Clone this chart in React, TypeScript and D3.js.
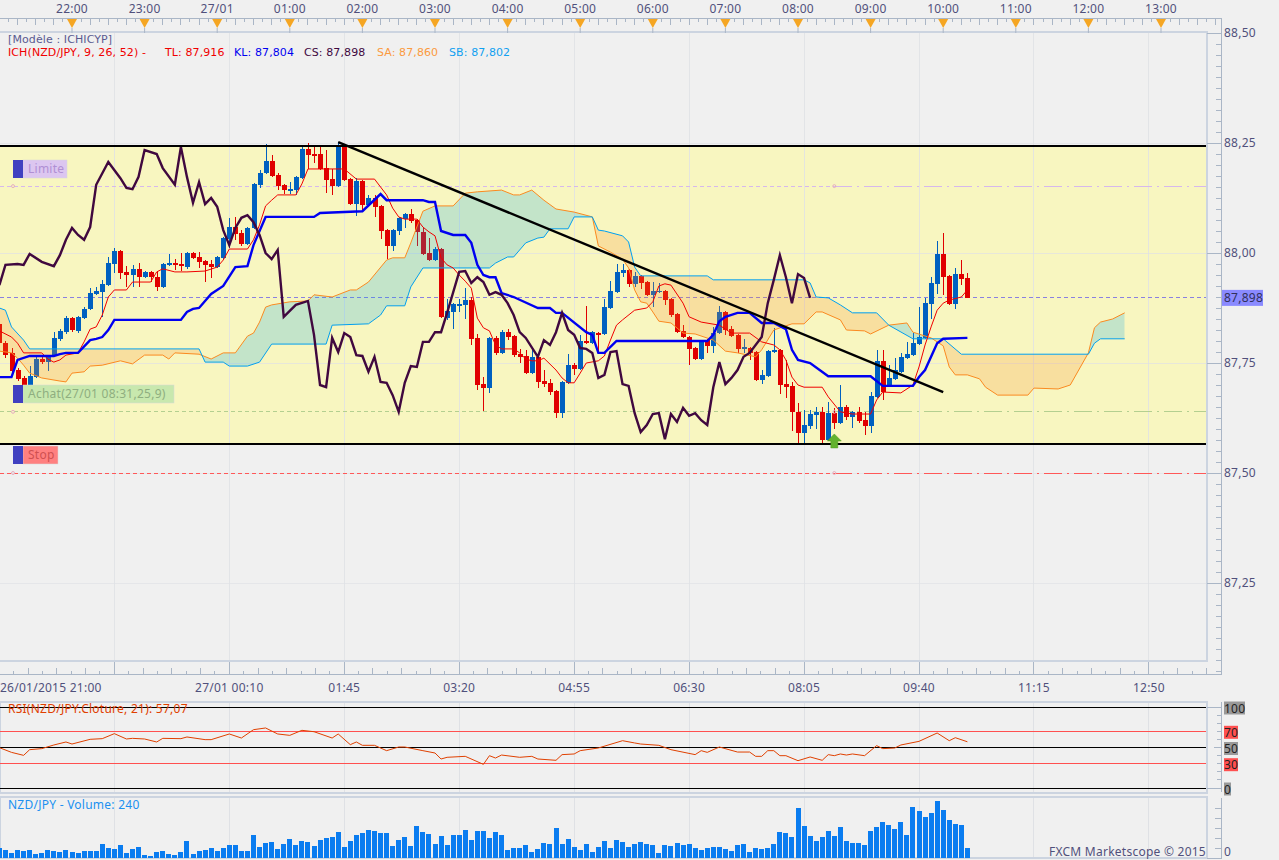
import React from 'react';
import * as d3 from 'd3';

// NZD/JPY 5 min candles, bar 0 = 26/01 21:00
const opens = [
  87.839, 87.795, 87.773, 87.734, 87.716, 87.698, 87.718, 87.759, 87.752, 87.768,
  87.805, 87.820, 87.852, 87.823, 87.852, 87.873, 87.907, 87.911, 87.927, 87.975,
  88.005, 87.957, 87.950, 87.964, 87.945, 87.957, 87.945, 87.923, 87.973, 87.977,
  87.975, 87.968, 88.000, 87.991, 87.982, 87.975, 87.968, 87.989, 88.032, 88.059,
  88.045, 88.020, 88.057, 88.155, 88.182, 88.209, 88.177, 88.155, 88.143, 88.143,
  88.170, 88.236, 88.225, 88.225, 88.193, 88.168, 88.152, 88.245, 88.168, 88.111,
  88.164, 88.109, 88.125, 88.107, 88.052, 88.016, 88.050, 88.077, 88.089, 88.075,
  88.048, 88.000, 87.984, 88.009, 87.852, 87.866, 87.882, 87.882, 87.893, 87.807,
  87.702, 87.693, 87.807, 87.773, 87.820, 87.811, 87.770, 87.766, 87.727, 87.764,
  87.709, 87.705, 87.686, 87.636, 87.705, 87.745, 87.736, 87.800, 87.795, 87.818,
  87.816, 87.875, 87.911, 87.955, 87.961, 87.930, 87.948, 87.934, 87.905, 87.911,
  87.914, 87.895, 87.861, 87.823, 87.809, 87.784, 87.759, 87.802, 87.789, 87.818,
  87.866, 87.827, 87.814, 87.784, 87.784, 87.775, 87.711, 87.720, 87.775, 87.780,
  87.702, 87.698, 87.639, 87.591, 87.607, 87.632, 87.639, 87.575, 87.636, 87.614,
  87.650, 87.627, 87.639, 87.620, 87.607, 87.673, 87.755, 87.700, 87.714, 87.730,
  87.761, 87.768, 87.793, 87.807, 87.884, 87.930, 87.998, 87.948, 87.884, 87.952,
  87.943,
];
const closes = [
  87.795, 87.768, 87.732, 87.714, 87.700, 87.720, 87.759, 87.752, 87.764, 87.807,
  87.823, 87.852, 87.825, 87.855, 87.873, 87.909, 87.914, 87.930, 87.977, 88.005,
  87.955, 87.950, 87.964, 87.945, 87.957, 87.945, 87.923, 87.975, 87.977, 87.973,
  87.970, 88.000, 87.989, 87.980, 87.973, 87.968, 87.991, 88.034, 88.059, 88.043,
  88.020, 88.057, 88.157, 88.182, 88.209, 88.175, 88.152, 88.143, 88.145, 88.173,
  88.236, 88.223, 88.223, 88.191, 88.166, 88.152, 88.245, 88.166, 88.111, 88.164,
  88.109, 88.125, 88.105, 88.050, 88.016, 88.052, 88.080, 88.089, 88.073, 88.048,
  87.998, 87.984, 88.009, 87.855, 87.868, 87.884, 87.884, 87.893, 87.805, 87.700,
  87.693, 87.807, 87.773, 87.820, 87.809, 87.768, 87.764, 87.727, 87.764, 87.707,
  87.702, 87.684, 87.636, 87.707, 87.745, 87.736, 87.800, 87.795, 87.820, 87.816,
  87.877, 87.914, 87.957, 87.961, 87.930, 87.948, 87.932, 87.905, 87.914, 87.914,
  87.893, 87.859, 87.820, 87.809, 87.782, 87.759, 87.800, 87.789, 87.818, 87.866,
  87.825, 87.811, 87.782, 87.786, 87.773, 87.711, 87.723, 87.777, 87.780, 87.700,
  87.695, 87.639, 87.591, 87.609, 87.634, 87.639, 87.575, 87.636, 87.614, 87.650,
  87.627, 87.639, 87.618, 87.607, 87.675, 87.755, 87.684, 87.716, 87.734, 87.764,
  87.770, 87.795, 87.809, 87.886, 87.932, 87.998, 87.945, 87.884, 87.952, 87.941,
  87.898,
];
const highs = [
  87.843, 87.800, 87.784, 87.739, 87.720, 87.743, 87.764, 87.764, 87.768, 87.820,
  87.827, 87.857, 87.855, 87.857, 87.877, 87.920, 87.923, 87.939, 87.991, 88.011,
  88.007, 87.970, 87.973, 87.977, 87.959, 87.959, 87.957, 87.977, 87.998, 87.986,
  88.000, 88.002, 88.002, 88.002, 87.984, 87.984, 87.993, 88.036, 88.080, 88.082,
  88.052, 88.059, 88.159, 88.189, 88.248, 88.223, 88.182, 88.157, 88.161, 88.175,
  88.243, 88.250, 88.245, 88.245, 88.234, 88.191, 88.252, 88.248, 88.170, 88.170,
  88.166, 88.132, 88.132, 88.109, 88.055, 88.055, 88.082, 88.091, 88.100, 88.077,
  88.057, 88.034, 88.014, 88.011, 87.895, 87.886, 87.895, 87.920, 87.900, 87.816,
  87.718, 87.809, 87.811, 87.825, 87.827, 87.814, 87.782, 87.780, 87.782, 87.766,
  87.734, 87.714, 87.689, 87.709, 87.770, 87.750, 87.814, 87.880, 87.823, 87.820,
  87.895, 87.936, 87.975, 87.975, 87.964, 87.957, 87.950, 87.936, 87.934, 87.932,
  87.916, 87.898, 87.864, 87.836, 87.811, 87.786, 87.802, 87.805, 87.832, 87.880,
  87.868, 87.834, 87.816, 87.805, 87.786, 87.777, 87.734, 87.780, 87.830, 87.782,
  87.757, 87.707, 87.659, 87.643, 87.643, 87.650, 87.650, 87.661, 87.648, 87.700,
  87.655, 87.641, 87.650, 87.639, 87.684, 87.780, 87.780, 87.745, 87.761, 87.773,
  87.798, 87.818, 87.877, 87.898, 87.945, 88.027, 88.045, 87.950, 87.966, 87.984,
  87.955,
];
const lows = [
  87.791, 87.761, 87.730, 87.709, 87.693, 87.693, 87.716, 87.748, 87.732, 87.764,
  87.800, 87.816, 87.820, 87.818, 87.850, 87.870, 87.905, 87.855, 87.925, 87.955,
  87.941, 87.923, 87.923, 87.923, 87.943, 87.934, 87.914, 87.920, 87.970, 87.961,
  87.959, 87.964, 87.986, 87.966, 87.934, 87.943, 87.966, 87.986, 88.011, 88.030,
  88.016, 88.018, 88.055, 88.148, 88.180, 88.173, 88.143, 88.134, 88.134, 88.132,
  88.168, 88.191, 88.205, 88.189, 88.136, 88.132, 88.150, 88.164, 88.109, 88.084,
  88.098, 88.107, 88.082, 88.032, 87.986, 88.005, 88.041, 88.057, 88.068, 88.016,
  87.995, 87.982, 87.982, 87.852, 87.848, 87.827, 87.866, 87.850, 87.791, 87.689,
  87.641, 87.682, 87.768, 87.770, 87.802, 87.764, 87.750, 87.725, 87.725, 87.693,
  87.695, 87.677, 87.625, 87.625, 87.702, 87.723, 87.734, 87.793, 87.793, 87.773,
  87.814, 87.873, 87.909, 87.945, 87.923, 87.923, 87.918, 87.902, 87.877, 87.909,
  87.882, 87.855, 87.818, 87.807, 87.745, 87.757, 87.757, 87.773, 87.773, 87.816,
  87.814, 87.809, 87.773, 87.773, 87.757, 87.709, 87.702, 87.718, 87.773, 87.680,
  87.670, 87.595, 87.568, 87.564, 87.600, 87.600, 87.568, 87.573, 87.600, 87.611,
  87.620, 87.602, 87.614, 87.586, 87.591, 87.670, 87.666, 87.698, 87.711, 87.727,
  87.759, 87.766, 87.791, 87.805, 87.850, 87.907, 87.905, 87.882, 87.873, 87.927,
  87.898,
];

// Ichimoku lines: bar index + value at each vertex
const tenkanBars = [0, 2, 3, 4, 7, 8, 9, 10, 11, 13, 14, 15, 16, 17, 18, 19, 21, 22, 25, 26, 27, 29, 31, 34, 36, 37, 38, 41, 42, 43, 44, 45, 46, 49, 50, 51, 57, 59, 62, 63, 64, 65, 66, 67, 69, 70, 71, 72, 73, 74, 75, 76, 77, 78, 79, 80, 81, 82, 83, 85, 86, 87, 88, 89, 90, 92, 93, 94, 95, 96, 97, 99, 100, 101, 102, 103, 105, 107, 108, 109, 110, 111, 113, 114, 116, 119, 121, 124, 126, 128, 129, 130, 131, 132, 133, 136, 137, 139, 141, 144, 145, 146, 149, 151, 152, 153, 154, 155, 156, 157, 159, 160];
const tenkanVals = [87.823, 87.809, 87.795, 87.773, 87.773, 87.759, 87.752, 87.757, 87.768, 87.773, 87.798, 87.827, 87.832, 87.859, 87.900, 87.916, 87.916, 87.934, 87.934, 87.957, 87.964, 87.957, 87.957, 87.959, 87.968, 87.984, 88.009, 88.009, 88.030, 88.064, 88.107, 88.120, 88.132, 88.132, 88.157, 88.191, 88.191, 88.168, 88.168, 88.150, 88.132, 88.102, 88.082, 88.077, 88.077, 88.059, 88.048, 88.039, 87.989, 87.973, 87.966, 87.950, 87.936, 87.920, 87.852, 87.830, 87.823, 87.791, 87.782, 87.782, 87.773, 87.759, 87.755, 87.755, 87.761, 87.734, 87.716, 87.705, 87.705, 87.727, 87.750, 87.755, 87.766, 87.802, 87.836, 87.848, 87.870, 87.875, 87.889, 87.925, 87.930, 87.927, 87.886, 87.855, 87.843, 87.836, 87.818, 87.818, 87.798, 87.791, 87.780, 87.757, 87.718, 87.700, 87.695, 87.695, 87.673, 87.639, 87.634, 87.634, 87.666, 87.684, 87.682, 87.700, 87.741, 87.791, 87.832, 87.870, 87.886, 87.893, 87.900, 87.916];

const kijunBars = [0, 2, 3, 5, 9, 10, 11, 13, 15, 16, 17, 18, 19, 30, 31, 32, 33, 35, 37, 39, 41, 42, 44, 52, 53, 60, 63, 64, 70, 71, 72, 73, 75, 77, 78, 79, 80, 81, 82, 83, 85, 89, 91, 92, 93, 97, 98, 99, 100, 102, 117, 118, 119, 120, 122, 124, 126, 128, 130, 131, 132, 134, 137, 144, 146, 151, 152, 153, 155, 156, 160];
const kijunVals = [87.718, 87.718, 87.757, 87.766, 87.766, 87.770, 87.773, 87.773, 87.802, 87.805, 87.809, 87.825, 87.848, 87.848, 87.866, 87.873, 87.875, 87.907, 87.925, 87.968, 87.970, 88.018, 88.082, 88.082, 88.091, 88.095, 88.134, 88.120, 88.120, 88.116, 88.116, 88.050, 88.041, 88.041, 88.023, 87.973, 87.950, 87.945, 87.945, 87.909, 87.900, 87.875, 87.875, 87.864, 87.864, 87.820, 87.814, 87.773, 87.773, 87.800, 87.800, 87.814, 87.845, 87.855, 87.864, 87.864, 87.841, 87.841, 87.827, 87.780, 87.757, 87.750, 87.720, 87.720, 87.698, 87.698, 87.718, 87.734, 87.795, 87.805, 87.807];

const chikouBars = [0, 1, 3, 4, 5, 7, 9, 10, 11, 12, 13, 14, 15, 16, 18, 20, 21, 22, 23, 24, 26, 27, 29, 30, 31, 32, 33, 34, 35, 36, 37, 38, 39, 40, 41, 42, 43, 44, 45, 46, 47, 49, 51, 52, 53, 54, 55, 56, 57, 58, 59, 60, 61, 62, 63, 64, 65, 66, 67, 68, 69, 70, 71, 72, 73, 74, 76, 77, 78, 79, 80, 81, 82, 83, 84, 85, 86, 87, 89, 90, 91, 92, 93, 94, 95, 96, 97, 98, 99, 100, 101, 102, 103, 104, 105, 106, 107, 108, 109, 110, 111, 112, 113, 114, 115, 116, 117, 118, 119, 120, 121, 122, 123, 124, 126, 127, 128, 129, 130, 131, 132, 133, 134];
const chikouVals = [87.927, 87.973, 87.975, 87.973, 87.998, 87.980, 87.970, 87.995, 88.030, 88.057, 88.041, 88.030, 88.059, 88.155, 88.207, 88.170, 88.148, 88.145, 88.173, 88.234, 88.225, 88.193, 88.155, 88.241, 88.173, 88.114, 88.161, 88.111, 88.125, 88.105, 88.052, 88.018, 88.057, 88.080, 88.086, 88.070, 88.041, 88.000, 87.986, 88.007, 87.855, 87.882, 87.891, 87.814, 87.700, 87.695, 87.807, 87.775, 87.818, 87.809, 87.768, 87.766, 87.730, 87.764, 87.707, 87.705, 87.677, 87.639, 87.705, 87.743, 87.741, 87.798, 87.798, 87.820, 87.820, 87.864, 87.957, 87.959, 87.932, 87.945, 87.934, 87.905, 87.911, 87.905, 87.886, 87.859, 87.820, 87.807, 87.764, 87.802, 87.791, 87.820, 87.864, 87.825, 87.814, 87.784, 87.782, 87.773, 87.716, 87.723, 87.775, 87.777, 87.702, 87.698, 87.636, 87.593, 87.609, 87.634, 87.636, 87.577, 87.634, 87.616, 87.648, 87.630, 87.636, 87.620, 87.609, 87.695, 87.752, 87.702, 87.716, 87.734, 87.764, 87.773, 87.809, 87.886, 87.939, 87.995, 87.945, 87.886, 87.952, 87.943, 87.898];

const senkouABars = [0, 2, 3, 4, 5, 7, 10, 11, 12, 14, 15, 17, 20, 22, 24, 27, 28, 29, 33, 35, 37, 39, 41, 42, 43, 44, 45, 48, 51, 52, 55, 58, 59, 61, 64, 65, 67, 68, 70, 72, 75, 77, 79, 83, 85, 86, 88, 90, 92, 95, 98, 99, 101, 103, 104, 105, 106, 107, 108, 109, 111, 113, 115, 118, 120, 122, 125, 126, 128, 131, 133, 135, 136, 139, 140, 143, 144, 147, 150, 151, 154, 156, 157, 158, 160, 162, 163, 165, 170, 171, 175, 177, 180, 181, 182, 184, 186];
const senkouAVals = [87.777, 87.773, 87.761, 87.745, 87.727, 87.716, 87.709, 87.707, 87.727, 87.730, 87.743, 87.745, 87.755, 87.748, 87.768, 87.768, 87.759, 87.773, 87.770, 87.759, 87.773, 87.773, 87.811, 87.818, 87.843, 87.877, 87.882, 87.889, 87.891, 87.905, 87.900, 87.916, 87.916, 87.934, 87.984, 87.989, 87.989, 88.023, 88.095, 88.107, 88.107, 88.136, 88.139, 88.143, 88.132, 88.132, 88.143, 88.120, 88.100, 88.093, 88.082, 88.016, 88.002, 87.986, 87.966, 87.916, 87.889, 87.886, 87.866, 87.845, 87.841, 87.818, 87.816, 87.802, 87.777, 87.773, 87.764, 87.780, 87.825, 87.839, 87.839, 87.866, 87.866, 87.848, 87.825, 87.823, 87.816, 87.836, 87.841, 87.820, 87.807, 87.789, 87.741, 87.723, 87.723, 87.714, 87.695, 87.677, 87.677, 87.693, 87.691, 87.700, 87.773, 87.830, 87.843, 87.850, 87.864];

const senkouBBars = [0, 1, 2, 4, 5, 33, 34, 37, 38, 41, 43, 45, 54, 55, 61, 63, 64, 67, 68, 70, 81, 82, 84, 85, 87, 89, 90, 91, 94, 95, 98, 99, 100, 103, 104, 105, 106, 117, 118, 133, 134, 135, 137, 139, 141, 145, 147, 151, 156, 159, 180, 181, 182, 186];
const senkouBVals = [87.875, 87.870, 87.832, 87.802, 87.782, 87.782, 87.752, 87.752, 87.743, 87.743, 87.752, 87.793, 87.793, 87.836, 87.839, 87.859, 87.880, 87.880, 87.923, 87.966, 87.966, 87.977, 87.991, 87.991, 88.023, 88.034, 88.036, 88.055, 88.055, 88.082, 88.082, 88.052, 88.050, 88.039, 88.025, 87.968, 87.948, 87.948, 87.939, 87.939, 87.932, 87.900, 87.898, 87.882, 87.864, 87.864, 87.836, 87.805, 87.805, 87.770, 87.770, 87.795, 87.805, 87.805];

const rsiBars = [0, 2, 4, 5, 7, 9, 11, 12, 15, 17, 19, 21, 22, 24, 26, 27, 30, 31, 34, 35, 38, 40, 42, 44, 46, 48, 50, 52, 55, 56, 58, 59, 60, 62, 64, 66, 67, 70, 72, 73, 74, 77, 80, 81, 82, 83, 86, 88, 89, 92, 93, 95, 96, 99, 103, 105, 106, 109, 111, 115, 116, 117, 119, 122, 124, 125, 126, 127, 128, 129, 130, 132, 134, 136, 137, 138, 139, 140, 141, 143, 145, 146, 148, 149, 152, 155, 157, 158, 160];
const rsiVals = [49.8, 44.0, 40.3, 47.3, 48.6, 53.1, 56.8, 54.3, 60.1, 60.9, 67.1, 60.5, 61.3, 60.5, 56.8, 61.3, 60.9, 63.0, 59.7, 59.7, 66.7, 61.7, 72.0, 74.1, 66.7, 65.0, 71.2, 69.5, 61.7, 66.7, 53.5, 56.8, 52.7, 52.7, 46.1, 50.6, 50.6, 46.1, 43.2, 35.8, 37.9, 39.1, 29.2, 39.9, 37.0, 40.7, 37.9, 39.1, 35.8, 34.2, 41.2, 42.0, 46.1, 49.4, 58.4, 55.6, 54.3, 52.7, 47.3, 41.2, 46.1, 44.0, 50.6, 44.4, 44.4, 39.1, 39.1, 46.1, 46.1, 39.9, 39.9, 33.7, 38.3, 34.2, 41.2, 39.9, 42.0, 40.7, 42.0, 39.9, 52.3, 48.6, 49.4, 53.1, 57.6, 67.9, 58.4, 62.1, 57.07];

const volumes = [
  240, 192, 128, 192, 176, 192, 104, 128, 192, 176, 152, 192, 152, 128, 168, 168, 168, 336, 240, 216,
  312, 120, 216, 264, 72, 48, 144, 168, 96, 72, 144, 408, 96, 168, 192, 240, 168, 240, 312, 312,
  168, 168, 552, 264, 360, 384, 216, 336, 456, 312, 408, 384, 288, 432, 480, 504, 624, 264, 408, 552,
  600, 672, 648, 600, 600, 288, 432, 504, 288, 768, 624, 576, 336, 528, 312, 552, 552, 672, 432, 648,
  648, 480, 624, 552, 192, 240, 240, 312, 144, 216, 360, 336, 720, 336, 456, 264, 192, 336, 144, 264,
  408, 240, 432, 384, 264, 336, 384, 336, 312, 120, 312, 288, 360, 312, 336, 240, 192, 240, 264, 264,
  216, 168, 312, 336, 144, 240, 216, 240, 336, 624, 600, 504, 1200, 768, 528, 408, 504, 648, 528, 744,
  408, 360, 360, 312, 648, 744, 864, 792, 696, 864, 552, 1224, 1128, 984, 1080, 1368, 1152, 912, 816, 792,
  240,
];

const priceLabels = ['88,50', '88,25', '88,00', '87,75', '87,50', '87,25'];
const priceLevels = [88.5, 88.25, 88.0, 87.75, 87.5, 87.25];
const hourLabels = ['22:00', '23:00', '27/01', '01:00', '02:00', '03:00', '04:00', '05:00', '06:00', '07:00', '08:00', '09:00', '10:00', '11:00', '12:00', '13:00'];
const bottomLabels = ['27/01 00:10', '01:45', '03:20', '04:55', '06:30', '08:05', '09:40', '11:15', '12:50'];
const rsiLevels = [100, 70, 50, 30, 0];

const rangeTop = 88.243;
const rangeBottom = 87.566;
const limitLevel = 88.152;
const entryLevel = 87.639;
const stopLevel = 87.5;
const lastClose = 87.898;
const trendBars = [56, 156];
const trendVals = [88.252, 87.684];
const orderBar = 138;

const W = 1279;
const H = 860;
const plotRight = 1207;
const axisRight = 1221.5;
const font = '"Noto Sans", sans-serif';
const axisText = '#50507c';
const frame = '#aab6c6';
const panel = '#ccd4e0';
const gridCol = '#dfe1e5';
const blueCandle = '#0060c0';
const redCandle = '#e00000';

const x = d3.scaleLinear().domain([0, 200]).range([-0.6, 1209.4]);
const y = d3.scaleLinear().domain([87.25, 88.5]).range([583, 33]);
const yRsi = d3.scaleLinear().domain([0, 100]).range([788, 707]);
const yVol = d3.scaleLinear().domain([0, 1368]).range([858, 801]);

const pathOf = (bars: number[], vals: number[]) =>
  d3.line<number>().x(b => x(b)).y((_, i) => y(vals[i]))(bars) as string;

const App = () => {
  const majorBars = d3.range(19, 200, 19);
  const gridX = majorBars.map(b => x(b));
  const saPath = pathOf(senkouABars, senkouAVals);
  const sbPath = pathOf(senkouBBars, senkouBVals);
  const sbRev = senkouBBars.slice().reverse();
  const sbValsRev = senkouBVals.slice().reverse();
  const cloud = saPath + 'L' + sbRev.map((b, i) => `${x(b)},${y(sbValsRev[i])}`).join('L') + 'Z';
  const sbBody = sbPath.replace(/^M/, 'L');
  const aboveSb = `M${x(0)},0${sbBody}L${x(186)},0Z`;
  const belowSb = `M${x(0)},${H}${sbBody}L${x(186)},${H}Z`;

  const label = (top: number, bodyW: number, fill: string, col: string, text: string) => (
    <g>
      <rect x={23} y={top} width={bodyW} height={18} fill={fill} stroke="#d8d8d8" strokeWidth={0.5} />
      <rect x={13} y={top} width={10} height={18} fill="#4040c0" />
      <text x={28} y={top + 13} fontSize={12} fill={col}>{text}</text>
    </g>
  );

  // order level: short dashes up to the order bar, dash-dot after it
  const level = (p: number, col: string) => (
    <g stroke={col}>
      <line x1={0} x2={x(orderBar)} y1={y(p)} y2={y(p)} strokeDasharray="4,3" />
      <line x1={x(orderBar)} x2={plotRight} y1={y(p)} y2={y(p)} strokeDasharray="18,5,2,5" />
    </g>
  );

  return (
    <svg width={W} height={H} viewBox={`0 0 ${W} ${H}`} fontFamily={font} letterSpacing={0.25}
      style={{ position: 'fixed', left: 0, top: 0, background: '#f0f0f0' }}>
      {/* range band */}
      <rect x={0} y={y(rangeTop)} width={plotRight} height={y(rangeBottom) - y(rangeTop)} fill="#f8f6c0" />

      {/* grid */}
      <g shapeRendering="crispEdges">
        {gridX.filter(g => g < plotRight).map(g => (
          <g key={g}>
            <line x1={g} x2={g} y1={33} y2={661} stroke={gridCol} strokeOpacity={0.8} />
            <line x1={g} x2={g} y1={703} y2={793} stroke={gridCol} />
            <line x1={g} x2={g} y1={798} y2={858} stroke={gridCol} />
          </g>
        ))}
        {priceLevels.slice(1).map(p => (
          <line key={p} x1={0} x2={plotRight} y1={y(p)} y2={y(p)} stroke={gridCol} strokeOpacity={0.7} />
        ))}

        {/* order levels */}
        {level(limitLevel, '#d6b8ec')}
        <line x1={0} x2={plotRight} y1={y(lastClose)} y2={y(lastClose)} stroke="#8a80e0" strokeDasharray="4,3" />
        {level(entryLevel, '#b4cf90')}
        {level(stopLevel, '#ff5858')}

        {/* candles */}
        {opens.map((o, i) => {
          const c = closes[i];
          const col = c >= o ? blueCandle : redCandle;
          const top = y(Math.max(o, c));
          const bot = y(Math.min(o, c));
          const cx = Math.round(x(i)) + 0.5;
          return (
            <g key={i}>
              <line x1={cx} x2={cx} y1={y(highs[i])} y2={y(lows[i])} stroke={col} />
              <rect x={cx - 2.5} width={5} y={top} height={Math.max(bot - top, 1.5)} fill={col} />
            </g>
          );
        })}
      </g>

      {/* cloud, painted over the candles */}
      <defs>
        <clipPath id="above-sb"><path d={aboveSb} /></clipPath>
        <clipPath id="below-sb"><path d={belowSb} /></clipPath>
      </defs>
      <path d={cloud} fill="#00a0ee" fillOpacity={0.21} clipPath="url(#above-sb)" />
      <path d={cloud} fill="#fc8926" fillOpacity={0.21} clipPath="url(#below-sb)" />
      <path d={saPath} fill="none" stroke="#fb8a20" />
      <path d={sbPath} fill="none" stroke="#00a0f0" />

      {/* Ichimoku lines */}
      <path d={pathOf(tenkanBars, tenkanVals)} fill="none" stroke="#f00000" />
      <path d={pathOf(kijunBars, kijunVals)} fill="none" stroke="#0000f0" strokeWidth={2.4} />
      <path d={pathOf(chikouBars, chikouVals)} fill="none" stroke="#40083f" strokeWidth={2.4} />

      {/* trend line + range borders */}
      <path d={pathOf(trendBars, trendVals)} fill="none" stroke="#000" strokeWidth={2.4} />
      <line x1={0} x2={plotRight} y1={y(rangeTop)} y2={y(rangeTop)} stroke="#000" strokeWidth={2} shapeRendering="crispEdges" />
      <line x1={0} x2={plotRight} y1={y(rangeBottom)} y2={y(rangeBottom)} stroke="#000" strokeWidth={2} shapeRendering="crispEdges" />

      {/* buy arrow */}
      <path
        transform={`translate(${x(orderBar)},${y(rangeBottom)})`}
        d="M0,-10 L7,-3 L3.5,-3 L3.5,4 L-3.5,4 L-3.5,-3 L-7,-3 Z"
        fill="#62b22e" stroke="#4f9a20" strokeWidth={0.5}
      />

      {/* order tags */}
      {label(160, 44, '#dcc6f0', '#b08fd4', 'Limite')}
      {label(385, 151, '#c8e8ae', '#8fae80', 'Achat(27/01 08:31,25,9)')}
      {label(446, 35, '#ff8080', '#cf5050', 'Stop')}
      {[limitLevel, entryLevel, stopLevel].map(l => (
        <g key={l} fill="none" stroke="#e6b0c0">
          <circle cx={13} cy={y(l)} r={1.5} />
          <circle cx={x(orderBar)} cy={y(l)} r={1.5} />
        </g>
      ))}

      {/* legend */}
      <g fontFamily='"DejaVu Sans", sans-serif' fontSize={11} letterSpacing={0.1}>
        <text x={8} y={43} fill="#5a5a90">[Modèle : ICHICYP]</text>
        <text x={8} y={56} fill="#f00000">ICH(NZD/JPY, 9, 26, 52) -</text>
        <text x={165} y={56} fill="#f00000">TL: 87,916</text>
        <text x={234} y={56} fill="#0000f0">KL: 87,804</text>
        <text x={304} y={56} fill="#40083f">CS: 87,898</text>
        <text x={377} y={56} fill="#fb9a40">SA: 87,860</text>
        <text x={449} y={56} fill="#10a0f0">SB: 87,802</text>
      </g>

      {/* main panel frame */}
      <g shapeRendering="crispEdges">
        <line x1={0} x2={plotRight} y1={32} y2={32} stroke={panel} strokeWidth={2} />
        <line x1={plotRight} x2={plotRight} y1={31} y2={662} stroke={panel} strokeWidth={2} />
        <line x1={0} x2={plotRight} y1={661} y2={661} stroke={panel} strokeWidth={2} />

        {/* top time ruler */}
        <line x1={0} x2={axisRight} y1={18.5} y2={18.5} stroke={frame} />
        <line x1={axisRight} x2={axisRight} y1={18} y2={674.5} stroke={frame} />
        {d3.range(0, 202, 1.5).filter(b => x(b) < axisRight).map((b, i) => (
          <line key={b} x1={x(b)} x2={x(b)} y1={19} y2={i % 2 === 0 ? 25 : 22} stroke={frame} />
        ))}
      </g>
      {hourLabels.map((h, i) => {
        const hx = x((i + 1) * 12);
        return (
          <g key={h}>
            <text x={hx} y={13} fontSize={12} textAnchor="middle" fill={axisText}>{h}</text>
            <line x1={hx} x2={hx} y1={28} y2={33} stroke={frame} />
            <path d={`M${hx - 5},19 L${hx + 5},19 L${hx},28 Z`} fill="#f5a623" />
          </g>
        );
      })}

      {/* right price axis */}
      <g shapeRendering="crispEdges">
        {d3.range(87.05, 88.5001, 0.025).map(p => (
          <line key={p} x1={1216} x2={axisRight} y1={y(p)} y2={y(p)} stroke={frame} />
        ))}
        {priceLevels.map(p => (
          <line key={p} x1={plotRight} x2={axisRight} y1={y(p)} y2={y(p)} stroke={frame} />
        ))}
      </g>
      {priceLevels.map((p, i) => (
        <text key={p} x={1224} y={y(p) + 4} fontSize={12} fill={axisText}>{priceLabels[i]}</text>
      ))}
      <rect x={1222} y={y(lastClose) - 8} width={41} height={16} fill="#8a8aff" />
      <text x={1224} y={y(lastClose) + 4} fontSize={12} fill="#30305c">87,898</text>

      {/* bottom time ruler */}
      <g shapeRendering="crispEdges">
        <line x1={0} x2={axisRight} y1={674.5} y2={674.5} stroke={frame} />
        {d3.range(0, 200, 19 / 8).filter(b => x(b) < axisRight).map((b, i) => (
          <line key={b} x1={x(b)} x2={x(b)} y1={i % 2 === 0 ? 668 : 671} y2={674} stroke={frame} />
        ))}
        {gridX.filter(g => g < plotRight).map(g => (
          <line key={g} x1={g} x2={g} y1={662} y2={674} stroke={frame} />
        ))}
      </g>
      <text x={0} y={692} fontSize={12} fill={axisText}>26/01/2015 21:00</text>
      {bottomLabels.map((b, i) => (
        <text key={b} x={x((i + 2) * 19)} y={692} fontSize={12} textAnchor="middle" fill={axisText}>{b}</text>
      ))}

      {/* RSI panel */}
      <g shapeRendering="crispEdges">
        <rect x={0} y={702} width={plotRight} height={91} fill="none" stroke={panel} strokeWidth={2} />
        <line x1={axisRight} x2={axisRight} y1={702} y2={792} stroke={frame} />
        {d3.range(0, 101, 10).map(r => (
          <line key={r} x1={1217} x2={axisRight} y1={yRsi(r)} y2={yRsi(r)} stroke={frame} />
        ))}
        <line x1={plotRight} x2={axisRight} y1={yRsi(100)} y2={yRsi(100)} stroke={frame} />
        <line x1={1214} x2={axisRight} y1={yRsi(50)} y2={yRsi(50)} stroke={frame} />
        <line x1={plotRight} x2={axisRight} y1={yRsi(0)} y2={yRsi(0)} stroke={frame} />
        {rsiLevels.map(r => (
          <line key={r} x1={0} x2={plotRight - 1} y1={yRsi(r)} y2={yRsi(r)}
            stroke={r === 70 || r === 30 ? '#ff5050' : '#000'} />
        ))}
      </g>
      <path fill="none" stroke="#e04000"
        d={d3.line<number>().x(b => x(b)).y((_, i) => yRsi(rsiVals[i]))(rsiBars) as string} />
      <text x={8} y={713} fontSize={12} fill="#e04000">RSI(NZD/JPY.Cloture, 21): 57,07</text>
      {rsiLevels.map(r => {
        const t = String(r);
        const red = r === 70 || r === 30;
        return (
          <g key={r}>
            <rect x={1224} y={yRsi(r) - 5.5} width={t.length * 7} height={13} fill={red ? '#ff5050' : '#999'} />
            <text x={1224} y={yRsi(r) + 5.5} fontSize={12} fill="#222">{t}</text>
          </g>
        );
      })}

      {/* volume panel */}
      <g shapeRendering="crispEdges">
        <rect x={0} y={797} width={plotRight} height={61} fill="none" stroke={panel} strokeWidth={2} />
        <line x1={axisRight} x2={axisRight} y1={798} y2={858} stroke={frame} />
        <line x1={plotRight} x2={axisRight} y1={858} y2={858} stroke={frame} />
        {[240, 480, 720, 960, 1200].map(v => (
          <line key={v} x1={1215} x2={axisRight} y1={yVol(v)} y2={yVol(v)} stroke={frame} />
        ))}
        {volumes.map((v, i) => (
          <rect key={i} x={x(i) - 2.5} width={5} y={yVol(v)} height={yVol(0) - yVol(v)} fill="#0a7cf0" />
        ))}
      </g>
      <text x={8} y={809} fontSize={12} fill="#2090f0">NZD/JPY - Volume: 240</text>
      <text x={1224} y={856} fontSize={12} fill={axisText}>0</text>
      <text x={1206} y={856} fontSize={12} textAnchor="end" fill={axisText}>FXCM Marketscope © 2015</text>
    </svg>
  );
};

export default App;
